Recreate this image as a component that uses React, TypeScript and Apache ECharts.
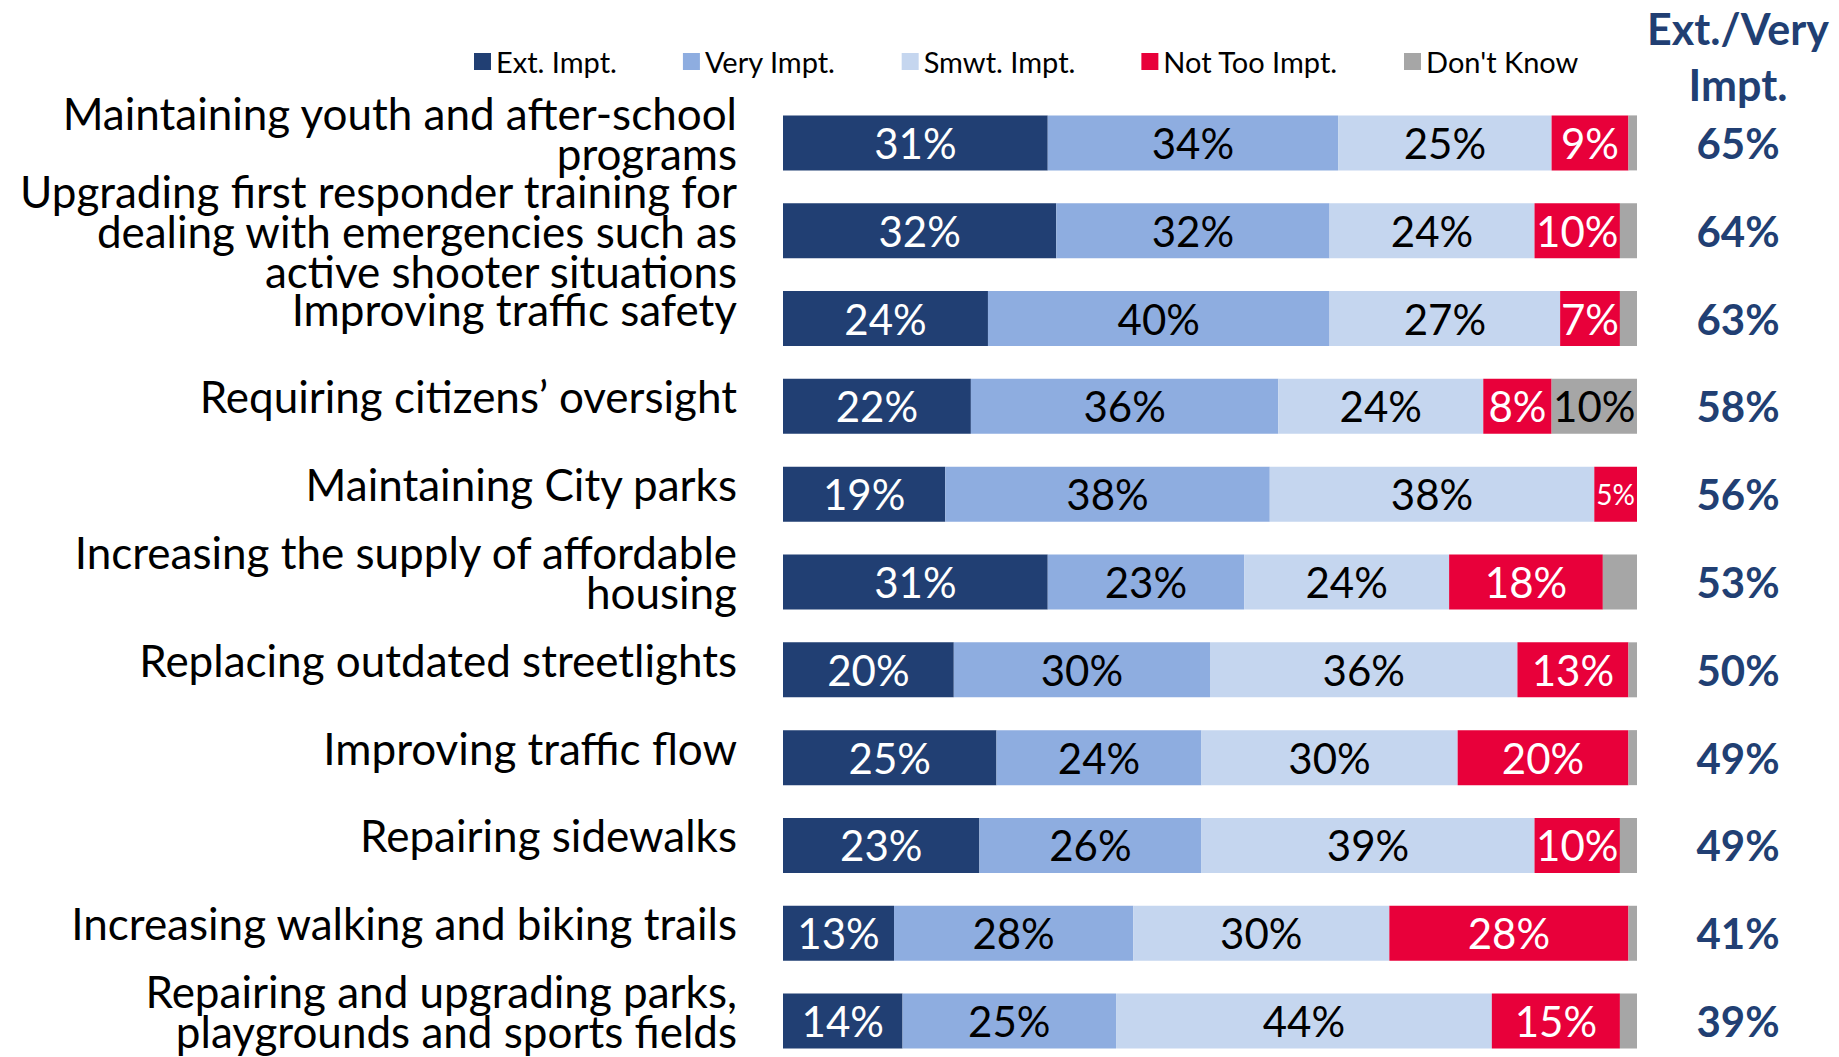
import React, { useEffect, useRef } from "react";
import * as echarts from "echarts";

const categories = [
  "Maintaining youth and after-school\nprograms",
  "Upgrading first responder training for\ndealing with emergencies such as\nactive shooter situations",
  "Improving traffic safety",
  "Requiring citizens’ oversight",
  "Maintaining City parks",
  "Increasing the supply of affordable\nhousing",
  "Replacing outdated streetlights",
  "Improving traffic flow",
  "Repairing sidewalks",
  "Increasing walking and biking trails",
  "Repairing and upgrading parks,\nplaygrounds and sports fields",
];

const seriesNames = ["Ext. Impt.", "Very Impt.", "Smwt. Impt.", "Not Too Impt.", "Don't Know"];
const extImpt = [31, 32, 24, 22, 19, 31, 20, 25, 23, 13, 14];
const veryImpt = [34, 32, 40, 36, 38, 23, 30, 24, 26, 28, 25];
const smwtImpt = [25, 24, 27, 24, 38, 24, 36, 30, 39, 30, 44];
const notTooImpt = [9, 10, 7, 8, 5, 18, 13, 20, 10, 28, 15];
const dontKnow = [1, 2, 2, 10, 0.6, 4, 1, 1, 2, 1, 2];
const extVeryTotals = [65, 64, 63, 58, 56, 53, 50, 49, 49, 41, 39];

const colors = ["#213F73", "#8EADE0", "#C5D6EF", "#E8003A", "#A6A6A6"];
const labelColors = ["#FFFFFF", "#000000", "#000000", "#FFFFFF", "#000000"];
const FONT = "Lato";

export default function App() {
  const ref = useRef<HTMLDivElement>(null);
  useEffect(() => {
    document.body.style.margin = "0";
    const chart = echarts.init(ref.current!, null, { renderer: "svg" });
    const values = [extImpt, veryImpt, smwtImpt, notTooImpt, dontKnow];
    const series = values.map((arr, si) => ({
      name: seriesNames[si],
      type: "bar",
      stack: "total",
      barWidth: 55,
      itemStyle: { color: colors[si] },
      data: arr.map((v) => ({
        value: v,
        label: {
          show: si === 4 ? v >= 5 : true,
          fontSize: v <= 5 ? 28 : 42,
        },
      })),
      label: {
        show: true,
        position: "inside",
        formatter: (p: any) => `${p.value}%`,
        color: labelColors[si],
        fontFamily: FONT,
        fontSize: 42,
      },
      emphasis: { disabled: true },
    }));

    chart.setOption({
      animation: false,
      textStyle: { fontFamily: FONT },
      legend: {
        data: seriesNames,
        left: 469,
        top: 42,
        icon: "rect",
        itemWidth: 17,
        itemHeight: 17,
        itemGap: 66,
        textStyle: { fontSize: 29, color: "#000", fontFamily: FONT },
        selectedMode: false,
      },
      grid: {
        left: 783,
        width: 854,
        top: 99,
        height: 966,
        containLabel: false,
        outerBoundsMode: "none",
      },
      xAxis: { type: "value", min: 0, max: 100, show: false },
      yAxis: [
        {
          type: "category",
          data: categories,
          inverse: true,
          axisLine: { show: false },
          axisTick: { show: false },
          axisLabel: {
            interval: 0,
            fontSize: 44,
            lineHeight: 40,
            color: "#000",
            fontFamily: FONT,
            margin: 46,
            align: "right",
            formatter: (v: string, i: number) => (i === 1 ? v : `${v}\n{s| }`),
            rich: {
              s: { fontSize: 1, lineHeight: 20 },
            },
          },
        },
        {
          type: "category",
          data: categories,
          inverse: true,
          position: "right",
          axisLine: { show: false },
          axisTick: { show: false },
          axisLabel: {
            interval: 0,
            formatter: (_v: string, i: number) => `${extVeryTotals[i]}%`,
            fontSize: 42,
            fontWeight: "bold",
            color: "#213F73",
            fontFamily: FONT,
            margin: 101,
            align: "center",
          },
        },
      ],
      graphic: [
        {
          type: "text",
          x: 1738,
          y: 56,
          style: {
            text: "Ext./Very\nImpt.",
            fill: "#213F73",
            font: `bold 43px ${FONT}`,
            lineHeight: 56,
            align: "center",
            verticalAlign: "middle",
          },
        },
      ],
      series,
    });
    return () => chart.dispose();
  }, []);
  return (
    <div
      ref={ref}
      style={{ position: "absolute", left: 0, top: 0, width: 1839, height: 1057 }}
    />
  );
}
